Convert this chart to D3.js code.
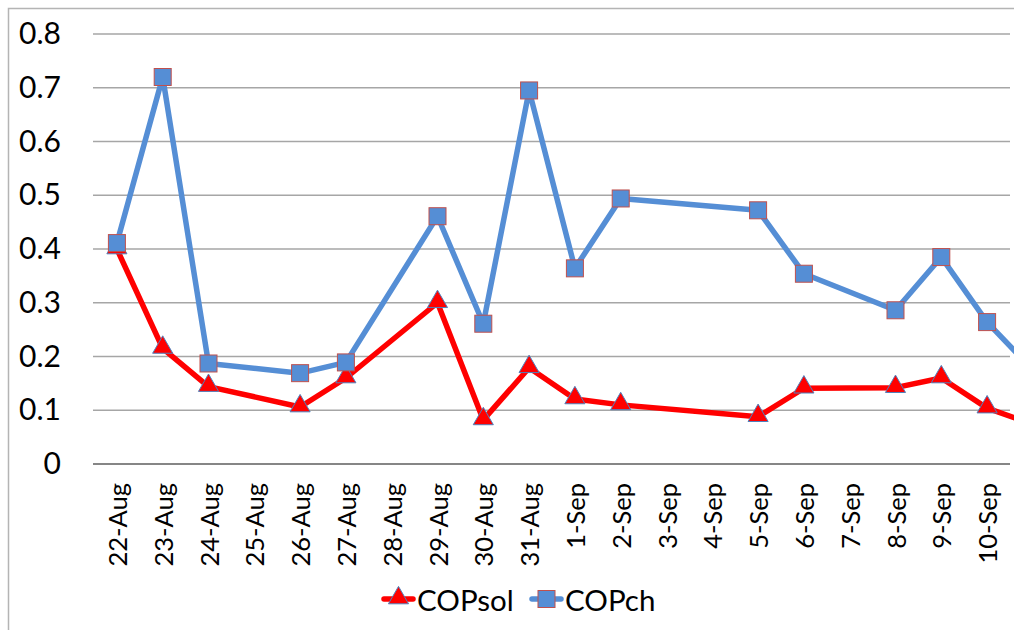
<!DOCTYPE html>
<html>
<head>
<meta charset="utf-8">
<script src="https://cdn.jsdelivr.net/npm/d3@7"></script>
<style>
  html, body { margin: 0; padding: 0; background: #fff; }
  svg { display: block; }
  text { font-family: Lato, "Open Sans", sans-serif; fill: #000; }
</style>
</head>
<body>
<svg id="chart" width="1014" height="630"></svg>
<script>
// ---- data ----
const dates = ["22-Aug","23-Aug","24-Aug","25-Aug","26-Aug","27-Aug","28-Aug","29-Aug","30-Aug","31-Aug",
               "1-Sep","2-Sep","3-Sep","4-Sep","5-Sep","6-Sep","7-Sep","8-Sep","9-Sep","10-Sep","11-Sep"];
const xTickLabels = ["22-Aug","23-Aug","24-Aug","25-Aug","26-Aug","27-Aug","28-Aug","29-Aug","30-Aug","31-Aug",
               "1-Sep","2-Sep","3-Sep","4-Sep","5-Sep","6-Sep","7-Sep","8-Sep","9-Sep","10-Sep"];
const copSol = [0.400, 0.215, 0.144, null, 0.106, 0.160, null, 0.300, 0.082, 0.179,
                0.121, 0.110, null, null, 0.088, 0.141, null, 0.142, 0.160, 0.104, 0.074];
const copCh  = [0.411, 0.720, 0.187, null, 0.169, 0.189, null, 0.461, 0.261, 0.695,
                0.364, 0.494, null, null, 0.472, 0.354, null, 0.286, 0.385, 0.264, 0.175];
const yTicks = [0, 0.1, 0.2, 0.3, 0.4, 0.5, 0.6, 0.7, 0.8];
const yTickLabels = ["0","0.1","0.2","0.3","0.4","0.5","0.6","0.7","0.8"];
const seriesNames = ["COPsol", "COPch"];

// ---- layout ----
const svg = d3.select("#chart");
const plotLeft = 94, plotRight = 1010, step = 45.8;
const x = d3.scaleBand().domain(dates).range([plotLeft, plotLeft + step * dates.length]).paddingInner(0).paddingOuter(0);
const y = d3.scaleLinear().domain([0, 0.8]).range([464, 34]);
const cx = d => x(d) + x.bandwidth() / 2;

// chart border (only top/left visible)
svg.append("path").attr("d", "M8.5,630 V8.5 H1014")
  .attr("fill", "none").attr("stroke", "#b4b4b4").attr("stroke-width", 1.5);

// gridlines
svg.append("g").selectAll("line").data(yTicks.filter(t => t > 0)).join("line")
  .attr("x1", plotLeft - 1).attr("x2", plotRight)
  .attr("y1", d => y(d)).attr("y2", d => y(d))
  .attr("stroke", "#a6a6a6").attr("stroke-width", 1.3);

// x axis line
svg.append("line").attr("x1", plotLeft - 1).attr("x2", plotRight)
  .attr("y1", y(0)).attr("y2", y(0)).attr("stroke", "#868686").attr("stroke-width", 2);

// y axis labels
const yAxis = d3.axisLeft(y).tickValues(yTicks).tickSize(0).tickPadding(0)
  .tickFormat((d, i) => yTickLabels[i]);
const gy = svg.append("g").attr("transform", "translate(61,0)").call(yAxis);
gy.select(".domain").remove();
gy.selectAll("text").attr("font-size", 30).attr("font-family", "Lato, 'Open Sans', sans-serif").attr("fill", "#000");

// x axis labels
const xAxis = d3.axisBottom(x).tickValues(xTickLabels).tickSize(0).tickPadding(0);
const gx = svg.append("g").attr("transform", `translate(0,${y(0)})`).call(xAxis);
gx.select(".domain").remove();
gx.selectAll("text")
  .attr("font-size", 25.5).attr("font-family", "Lato, 'Open Sans', sans-serif").attr("fill", "#000")
  .attr("text-anchor", "end").attr("dy", null)
  .attr("transform", "translate(0,19) rotate(-90)")
  .attr("x", 0).attr("y", 0).attr("dominant-baseline", "central");

// lines
const toPts = vals => dates.map((d, i) => ({d, v: vals[i]})).filter(p => p.v !== null);
const solPts = toPts(copSol), chPts = toPts(copCh);
const line = d3.line().x(p => cx(p.d)).y(p => y(p.v));
svg.append("defs").append("clipPath").attr("id", "clipR")
  .append("rect").attr("x", 0).attr("y", 0).attr("width", 1014).attr("height", 630);

const gLines = svg.append("g").attr("clip-path", "url(#clipR)");
gLines.append("path").datum(solPts).attr("d", line)
  .attr("fill", "none").attr("stroke", "#ff0000").attr("stroke-width", 5.5).attr("stroke-linejoin", "round");
gLines.append("path").datum(chPts).attr("d", line)
  .attr("fill", "none").attr("stroke", "#558ed5").attr("stroke-width", 5.5).attr("stroke-linejoin", "round");

const tri = d3.symbol().type(d3.symbolTriangle).size(175);
const sq = 17;
gLines.append("g").selectAll("path").data(solPts).join("path")
  .attr("d", tri).attr("transform", p => `translate(${cx(p.d)},${y(p.v) - 1})`)
  .attr("fill", "#ff0000").attr("stroke", "#4f81bd").attr("stroke-width", 1);
gLines.append("g").selectAll("rect").data(chPts).join("rect")
  .attr("x", p => cx(p.d) - sq / 2).attr("y", p => y(p.v) - sq / 2)
  .attr("width", sq).attr("height", sq)
  .attr("fill", "#558ed5").attr("stroke", "#c0504d").attr("stroke-width", 1);

// legend
const leg = svg.append("g");
const legItems = [
  {name: seriesNames[0], x0: 384, color: "#ff0000", marker: "tri"},
  {name: seriesNames[1], x0: 532, color: "#558ed5", marker: "sq"}
];
const legY = 599;
legItems.forEach(it => {
  leg.append("line").attr("x1", it.x0).attr("x2", it.x0 + 29).attr("y1", legY).attr("y2", legY)
    .attr("stroke", it.color).attr("stroke-width", 5.5).attr("stroke-linecap", "round");
  if (it.marker === "tri") {
    leg.append("path").attr("d", tri).attr("transform", `translate(${it.x0 + 14.5},${legY - 1})`)
      .attr("fill", "#ff0000").attr("stroke", "#4f81bd").attr("stroke-width", 1);
  } else {
    leg.append("rect").attr("x", it.x0 + 14.5 - sq / 2).attr("y", legY - sq / 2).attr("width", sq).attr("height", sq)
      .attr("fill", "#558ed5").attr("stroke", "#c0504d").attr("stroke-width", 1);
  }
  leg.append("text").attr("x", it.x0 + 33).attr("y", legY).attr("dominant-baseline", "central")
    .attr("font-size", 29.5).text(it.name);
});
</script>
</body>
</html>
